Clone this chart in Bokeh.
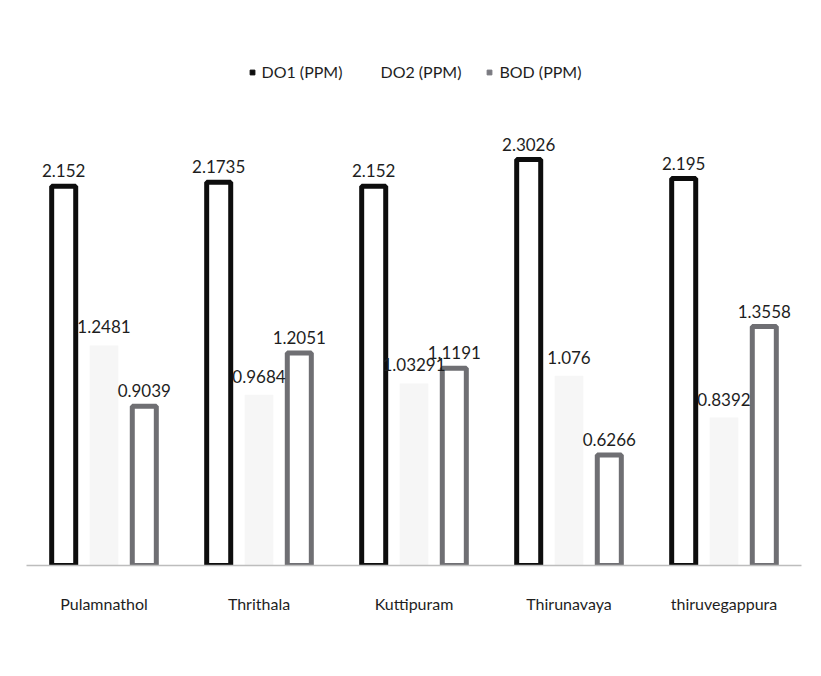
from bokeh.plotting import figure
from bokeh.models import ColumnDataSource, LabelSet, Range1d, Legend, LegendItem
from bokeh.core.properties import value
from bokeh.transform import dodge
from bokeh.embed import file_html
from bokeh.resources import INLINE

sites = ["Pulamnathol", "Thrithala", "Kuttipuram", "Thirunavaya", "thiruvegappura"]
do1 = [2.152, 2.1735, 2.152, 2.3026, 2.195]
do2 = [1.2481, 0.9684, 1.03291, 1.076, 0.8392]
bod = [0.9039, 1.2051, 1.1191, 0.6266, 1.3558]
series_names = ["DO1 (PPM)", "DO2 (PPM)", "BOD (PPM)"]

FONT = "Lato"
TXT = "#1e1e1e"

src = ColumnDataSource(dict(
    site=sites, do1=do1, do2=do2, bod=bod,
    do1_t=[str(v) for v in do1], do2_t=[str(v) for v in do2], bod_t=[str(v) for v in bod],
))

p = figure(width=805, height=660, x_range=sites, y_range=Range1d(0, 2.95),
           output_backend="svg", toolbar_location=None,
           min_border_left=26, min_border_right=4, min_border_top=45, min_border_bottom=95)

offs = [-0.26, 0.0, 0.26]
W = 0.155
p.vbar(x=dodge("site", offs[1], range=p.x_range), top="do2", width=W + 0.03, source=src,
       fill_color="#f6f6f6", line_color=None)
p.vbar(x=dodge("site", offs[0], range=p.x_range), top="do1", width=W, source=src,
       fill_color="white", line_color="#0d0d0d", line_width=5)
p.vbar(x=dodge("site", offs[2], range=p.x_range), top="bod", width=W, source=src,
       fill_color="white", line_color="#6f6f73", line_width=5)

for off, col, yo in [(offs[0], "do1", 9), (offs[1], "do2", 12), (offs[2], "bod", 9)]:
    p.add_layout(LabelSet(x=dodge("site", off, range=p.x_range), y=col, text=col + "_t",
                          source=src, text_align="center", y_offset=yo,
                          text_font=value(FONT), text_font_size=value("17px"),
                          text_color=TXT))

# legend swatches (points placed below the visible range)
r1 = p.scatter(x=[sites[0]], y=[-10], marker="square", size=10,
               fill_color="#0d0d0d", line_color="#0d0d0d")
r2 = p.scatter(x=[sites[0]], y=[-10], marker="square", size=10,
               fill_color="white", line_color="white")
r3 = p.scatter(x=[sites[0]], y=[-10], marker="square", size=10,
               fill_color="#7a7a80", line_color="#7a7a80")
legend = Legend(items=[LegendItem(label=series_names[0], renderers=[r1]),
                       LegendItem(label=series_names[1], renderers=[r2]),
                       LegendItem(label=series_names[2], renderers=[r3])],
                orientation="horizontal", location="top_center", margin=17,
                border_line_color=None, background_fill_alpha=0,
                label_text_font=FONT, label_text_font_size="16px", label_text_color=TXT,
                glyph_width=12, glyph_height=12, spacing=22, label_standoff=4)
p.add_layout(legend)

p.yaxis.visible = False
p.xgrid.grid_line_color = None
p.ygrid.grid_line_color = None
p.outline_line_color = None
p.xaxis.axis_line_color = "#bdbdbd"
p.xaxis.axis_line_width = 1.5
p.xaxis.major_tick_line_color = None
p.xaxis.minor_tick_line_color = None
p.xaxis.major_label_standoff = 22
p.xaxis.major_label_text_font = FONT
p.xaxis.major_label_text_font_size = "16px"
p.xaxis.major_label_text_color = TXT

open("out.html", "w").write(file_html(p, INLINE))
